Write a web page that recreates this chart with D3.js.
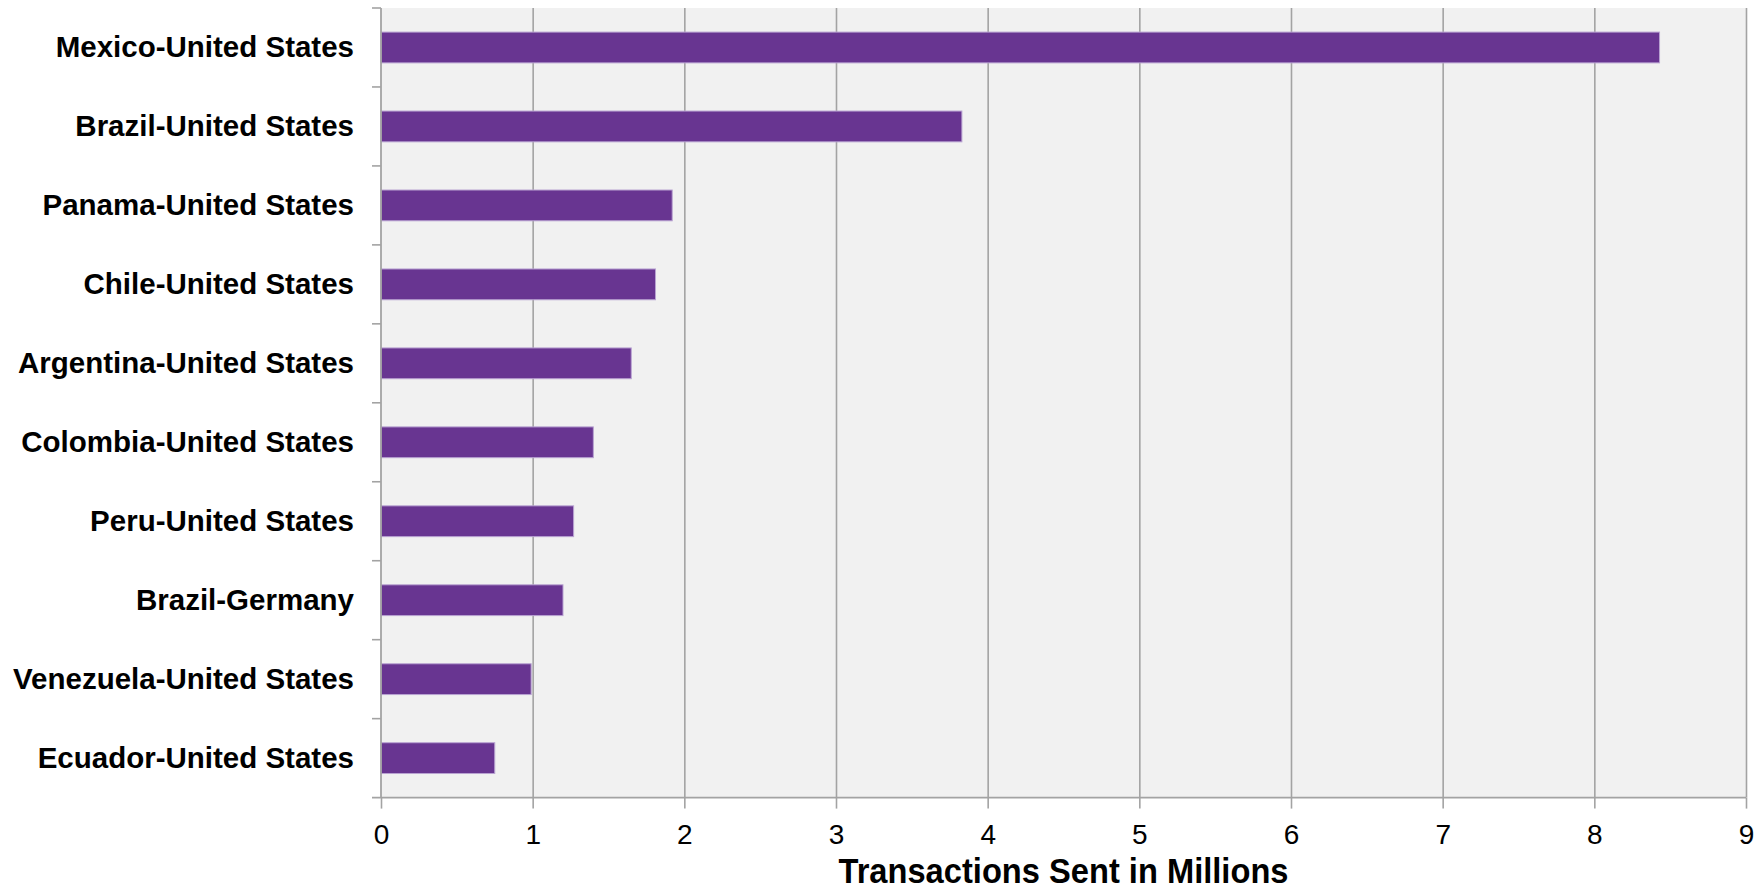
<!DOCTYPE html>
<html>
<head>
<meta charset="utf-8">
<script src="https://cdn.jsdelivr.net/npm/d3@7"></script>
<style>
  html, body { margin: 0; padding: 0; background: #ffffff; }
  svg { display: block; }
  text { font-family: "Liberation Sans", Arial, Helvetica, sans-serif; fill: #000; }
</style>
</head>
<body>
<svg id="chart" width="1754" height="892"></svg>
<script>
// Top remittance corridors, transactions sent (millions)
const corridors = [
  "Mexico-United States",
  "Brazil-United States",
  "Panama-United States",
  "Chile-United States",
  "Argentina-United States",
  "Colombia-United States",
  "Peru-United States",
  "Brazil-Germany",
  "Venezuela-United States",
  "Ecuador-United States"
];
const transactions = [8.43, 3.83, 1.92, 1.81, 1.65, 1.40, 1.27, 1.20, 0.99, 0.75];
const xTicks = [0, 1, 2, 3, 4, 5, 6, 7, 8, 9];
const xTitle = "Transactions Sent in Millions";

const rows = corridors.map((name, i) => ({ name, value: transactions[i] }));

const plot = { left: 381, right: 1746, top: 8, bottom: 797.6 };
const svg = d3.select("#chart");

const x = d3.scaleLinear().domain([0, 9]).range([plot.left, plot.right]);
const y = d3.scaleBand()
  .domain(corridors)
  .range([plot.top, plot.bottom])
  .paddingInner(0.61)
  .paddingOuter(0.305);

const gridColor = "#a3a3a3";

// plot background
svg.append("rect")
  .attr("x", plot.left).attr("y", plot.top)
  .attr("width", plot.right - plot.left)
  .attr("height", plot.bottom - plot.top)
  .attr("fill", "#f1f1f1");

// vertical gridlines
const grid = svg.append("g")
  .attr("transform", `translate(0,${plot.bottom})`)
  .call(d3.axisBottom(x).tickValues(xTicks.slice(1)).tickSize(-(plot.bottom - plot.top)).tickFormat(""));
grid.select(".domain").remove();
grid.selectAll(".tick line").attr("stroke", gridColor).attr("stroke-width", 1.6);

// bars
svg.append("g")
  .selectAll("rect")
  .data(rows)
  .join("rect")
  .attr("x", x(0))
  .attr("y", d => y(d.name))
  .attr("width", d => x(d.value) - x(0))
  .attr("height", y.bandwidth())
  .attr("fill", "#683591")
  .attr("stroke", "#b9a3d2")
  .attr("stroke-width", 1);

// x axis
const xAxis = svg.append("g")
  .attr("transform", `translate(0,${plot.bottom})`)
  .call(d3.axisBottom(x).tickValues(xTicks).tickSize(11).tickFormat(d3.format("d")));
xAxis.select(".domain")
  .attr("d", `M${plot.left - 9},0H${plot.right}`)
  .attr("stroke", gridColor).attr("stroke-width", 1.8);
xAxis.selectAll(".tick line").attr("stroke", gridColor).attr("stroke-width", 1.6);
xAxis.selectAll(".tick text")
  .attr("y", 46).attr("dy", 0)
  .style("font-size", "28px")
  .attr("fill", "#000");

// y axis: category labels
const yAxis = svg.append("g")
  .attr("transform", `translate(${plot.left},0)`)
  .call(d3.axisLeft(y).tickSize(0).tickPadding(27));
yAxis.select(".domain")
  .attr("d", `M0,${plot.top}V${plot.bottom}`)
  .attr("stroke", gridColor).attr("stroke-width", 1.8);
yAxis.selectAll(".tick text")
  .attr("dy", 9.5)
  .style("font-size", "29.5px")
  .style("font-weight", "bold")
  .attr("fill", "#000");

// category separator ticks on the y axis
const gap = (y.step() - y.bandwidth()) / 2;
const bounds = corridors.map(c => y(c) - gap);
svg.append("g")
  .selectAll("line")
  .data(bounds)
  .join("line")
  .attr("x1", plot.left - 9).attr("x2", plot.left)
  .attr("y1", d => d).attr("y2", d => d)
  .attr("stroke", gridColor).attr("stroke-width", 1.6);

// axis title
svg.append("text")
  .attr("x", (plot.left + plot.right) / 2)
  .attr("y", 883)
  .attr("text-anchor", "middle")
  .attr("textLength", 450)
  .attr("lengthAdjust", "spacingAndGlyphs")
  .style("font-size", "35px")
  .style("font-weight", "bold")
  .text(xTitle);
</script>
</body>
</html>
